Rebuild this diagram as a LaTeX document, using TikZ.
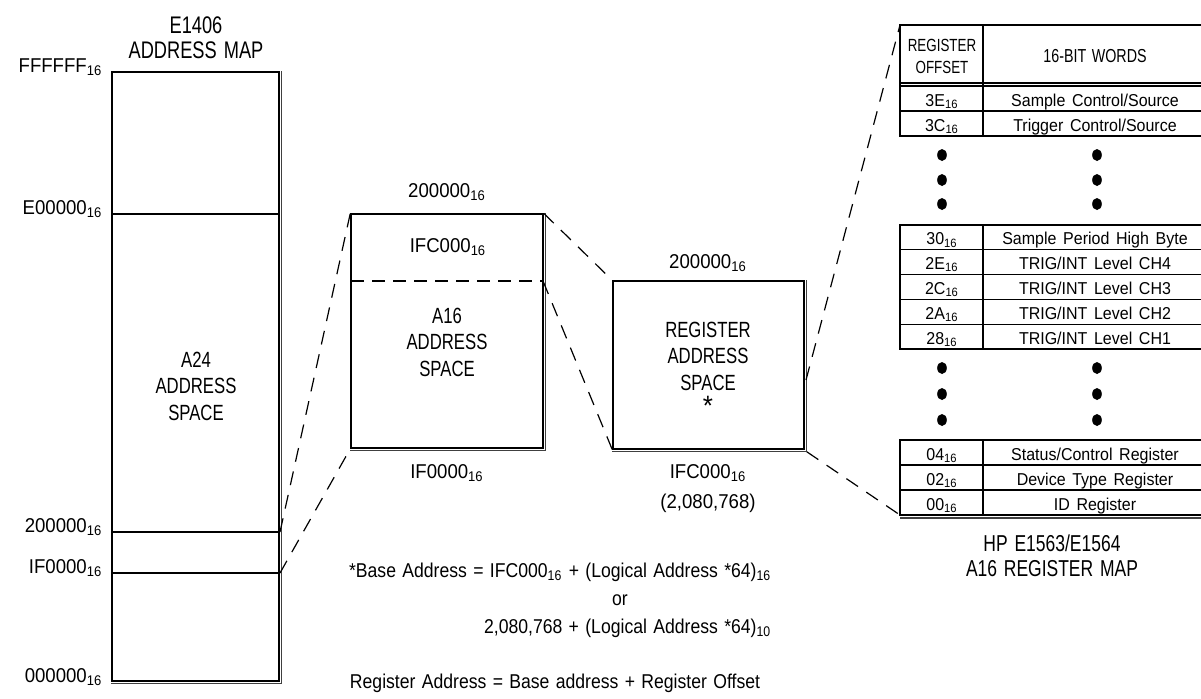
\documentclass[tikz,border=0pt]{standalone}
\usepackage{fontspec}
\setmainfont{Liberation Sans}[FakeStretch=0.93,WordSpace=1.5]
\newfontfamily\capsf{Liberation Sans}[FakeStretch=0.76,WordSpace=1.4]
\newfontfamily\notef{Liberation Sans}[FakeStretch=0.88,WordSpace=1.3]
\usetikzlibrary{positioning}
\newcommand{\hexnum}[1]{#1\textsubscript{16}}

\begin{document}
\begin{tikzpicture}[x=0.5pt,y=-0.5pt,line width=0.7pt,
  membox/.style={draw,rectangle,inner sep=0pt},
  shadowline/.style={line width=0.6pt,draw=black!75},
  link/.style={dash pattern=on 7pt off 5pt,line width=0.6pt},
  cut/.style={dash pattern=on 6.5pt off 4pt,line width=0.6pt},
  tline/.style={line width=0.6pt},
  title/.style={font=\capsf\fontsize{12}{12.5}\selectfont,align=center},
  spacelbl/.style={font=\capsf\fontsize{11}{13.25}\selectfont,align=center},
  addr/.style={font=\fontsize{10}{12}\selectfont,inner sep=0pt},
  cell/.style={font=\fontsize{8.6}{10}\selectfont,anchor=base,inner sep=0pt},
  head/.style={font=\capsf\fontsize{8.8}{11}\selectfont,align=center},
  note/.style={font=\notef\fontsize{10}{12}\selectfont,inner sep=0pt}]
  \useasboundingbox (0,0) rectangle (1201,698);

  % E1406 address map
  \node[title] (maptitle) at (196,38) {E1406\\ADDRESS MAP};
  \node[membox,minimum width=83.5pt,minimum height=304.5pt] (a24) at (195.5,376.5) {};
  \draw[shadowline] ([xshift=1pt]a24.north east) -- ([shift={(1pt,-1pt)}]a24.south east) -- ([yshift=-1pt]a24.south west);
  \foreach \y in {214,532,573}
    \draw (112,\y) -- (279,\y);
  \node[spacelbl] (a24lbl) at (196,386) {A24\\ADDRESS\\SPACE};
  \foreach \y/\v in {72/FFFFFF,214/E00000,532/200000,573/IF0000,682/000000}
    \node[addr,anchor=base east] (lv\v) at (103,\y) {\hexnum{\v}};
  \coordinate (a24top) at (280,532);
  \coordinate (a24bot) at (280,573);

  % A16 address space
  \node[membox,minimum width=96pt,minimum height=117pt] (a16) at (447,331) {};
  \draw[shadowline] ([xshift=1pt]a16.north east) -- ([shift={(1pt,-1pt)}]a16.south east) -- ([yshift=-1pt]a16.south west);
  \draw[cut] (351,281) -- (543,281) coordinate (a16cut);
  \node[addr,anchor=base] (a16hi) at (447,197) {\hexnum{200000}};
  \node[addr,anchor=base] (a16reg) at (448,252) {\hexnum{IFC000}};
  \node[spacelbl] (a16lbl) at (447,342) {A16\\ADDRESS\\SPACE};
  \node[addr,anchor=base] (a16lo) at (447,478) {\hexnum{IF0000}};

  % register address space
  \node[membox,minimum width=95.5pt,minimum height=84pt] (reg) at (708.5,365) {};
  \draw[shadowline] ([xshift=1pt]reg.north east) -- ([shift={(1pt,-1pt)}]reg.south east) -- ([yshift=-1pt]reg.south west);
  \node[addr,anchor=base] (reghi) at (708,268) {\hexnum{200000}};
  \node[spacelbl] (reglbl) at (708,356) {REGISTER\\ADDRESS\\SPACE};
  \node[font=\fontsize{14}{14}\selectfont,inner sep=0pt,anchor=base] (regstar) at (708,415) {*};
  \node[addr,anchor=base] (reglo) at (708,478) {\hexnum{IFC000}};
  \node[addr,anchor=base] (regdec) at (708,508) {(2,080,768)};
  \coordinate (regmid) at (806,380);

  % register map table
  \coordinate (tabtop) at (900,25);
  \coordinate (tabbot) at (900,515);
  \draw[tline] (1201,25) -- (900,25) -- (900,136) -- (1201,136);
  \draw[tline] (983,25) -- (983,136);
  \draw[tline] (900,83) -- (1201,83);
  \node[head] (offhead) at (942,56) {REGISTER\\OFFSET};
  \node[head,font=\capsf\fontsize{9.4}{11}\selectfont] (wordhead) at (1095,56) {16-BIT WORDS};
  \foreach \off/\word [count=\i] in {3E/{Sample Control/Source},3C/{Trigger Control/Source}}{
    \node[cell] (offA\i) at (942,{86+25*\i-5}) {\hexnum{\off}};
    \node[cell] (wordA\i) at (1095,{86+25*\i-5}) {\word};
    \draw[tline] (900,{86+25*(\i-1)}) -- (1201,{86+25*(\i-1)});
  }
  \draw[tline] (1201,225) -- (900,225) -- (900,349) -- (1201,349);
  \draw[tline] (983,225) -- (983,349);
  \foreach \off/\word [count=\i] in {30/{Sample Period High Byte},2E/{TRIG/INT Level CH4},2C/{TRIG/INT Level CH3},2A/{TRIG/INT Level CH2},28/{TRIG/INT Level CH1}}{
    \node[cell] (offB\i) at (942,{225+24.8*\i-5}) {\hexnum{\off}};
    \node[cell] (wordB\i) at (1095,{225+24.8*\i-5}) {\word};
    \draw[tline] (900,{225+24.8*\i}) -- (1201,{225+24.8*\i});
  }
  \draw[tline] (1201,440) -- (900,440) -- (900,515) -- (1201,515);
  \draw[tline] (983,440) -- (983,515);
  \draw[shadowline] (900,518) -- (1201,518);
  \foreach \off/\word [count=\i] in {04/{Status/Control Register},02/{Device Type Register},00/{ID Register}}{
    \node[cell] (offC\i) at (942,{440+25*\i-5}) {\hexnum{\off}};
    \node[cell] (wordC\i) at (1095,{440+25*\i-5}) {\word};
    \draw[tline] (900,{440+25*\i}) -- (1201,{440+25*\i});
  }
  \foreach \y in {155,180,204,368,394,420}{
    \fill (942,\y) ellipse [x radius=2.4pt,y radius=3pt];
    \fill (1097,\y) ellipse [x radius=2.4pt,y radius=3pt];
  }
  \node[title,font=\capsf\fontsize{11.5}{12.5}\selectfont] (tabtitle) at (1052,556) {HP E1563/E1564\\A16 REGISTER MAP};

  % dashed links
  \draw[link] (a24top) -- (a16.north west);
  \draw[link] (a24bot) -- (a16.south west);
  \draw[link] (a16.north east) -- (reg.north west);
  \draw[link] (a16cut) -- (reg.south west);
  \draw[link] (regmid) -- (tabtop);
  \draw[link] ([shift={(1pt,-1pt)}]reg.south east) -- (tabbot);

  % notes
  \node[note,anchor=base east] (note1) at (772,577) {*Base Address = \hexnum{IFC000} + (Logical Address *64)\textsubscript{16}};
  \node[note,anchor=base] (note2) at (620,605) {or};
  \node[note,anchor=base east] (note3) at (772,633) {2,080,768 + (Logical Address *64)\textsubscript{10}};
  \node[note,anchor=base] (note4) at (555,688) {Register Address = Base address + Register Offset};
\end{tikzpicture}
\end{document}
